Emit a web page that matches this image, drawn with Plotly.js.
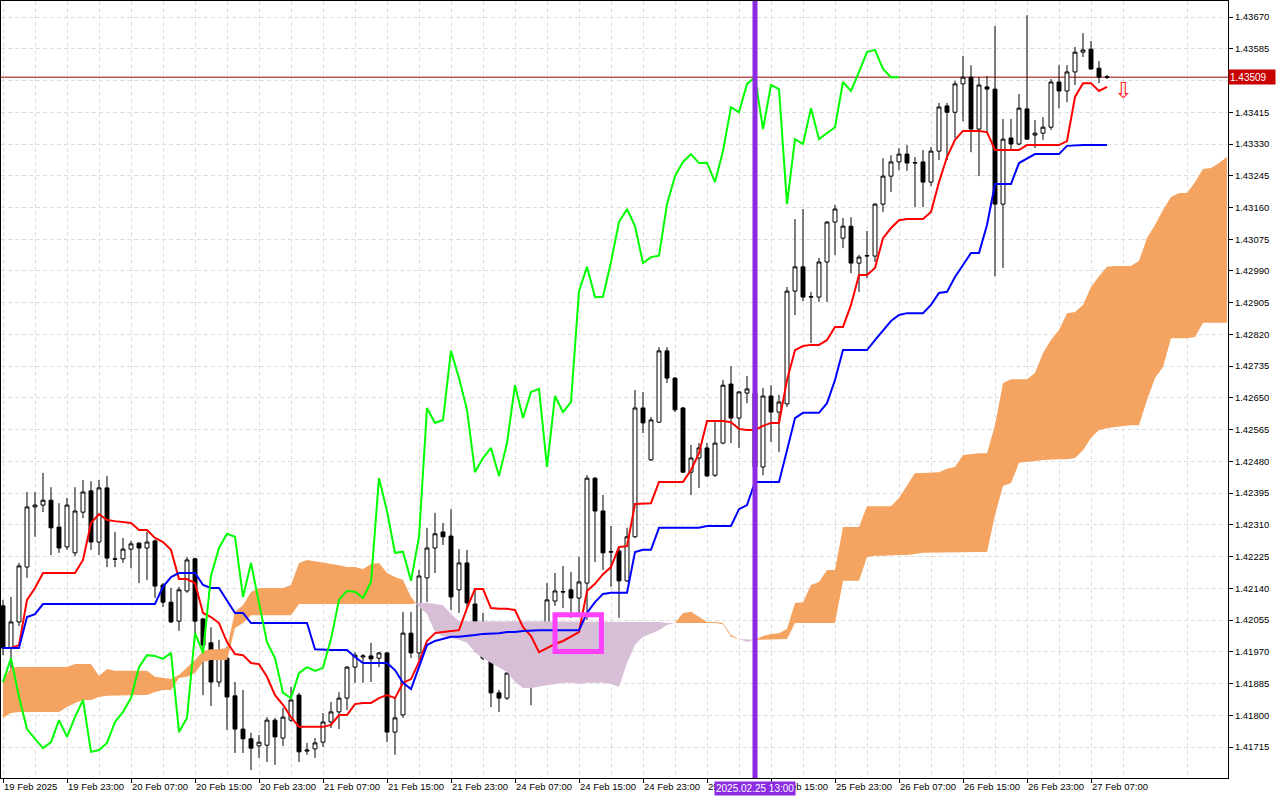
<!DOCTYPE html>
<html>
<head>
<meta charset="utf-8">
<script src="https://cdn.plot.ly/plotly-3.0.1.min.js"></script>
<style>
html,body{margin:0;padding:0;background:#ffffff;}
#chart{width:1280px;height:800px;}
</style>
</head>
<body>
<div id="chart"></div>
<script>
// ---- time axis labels (H1 bars, one label every 8 bars) ----
const tickBars = [0, 8, 16, 24, 32, 40, 48, 56, 64, 72, 80, 88, 96, 104, 112, 120, 128, 136];
const tickLabels = ["19 Feb 2025", "19 Feb 23:00", "20 Feb 07:00", "20 Feb 15:00", "20 Feb 23:00",
  "21 Feb 07:00", "21 Feb 15:00", "21 Feb 23:00", "24 Feb 07:00", "24 Feb 15:00", "24 Feb 23:00",
  "25 Feb 07:00", "25 Feb 15:00", "25 Feb 23:00", "26 Feb 07:00", "26 Feb 15:00", "26 Feb 23:00",
  "27 Feb 07:00"];

// ---- price axis labels ----
const priceTicks = [1.41715, 1.41800, 1.41885, 1.41970, 1.42055, 1.42140, 1.42225, 1.42310,
  1.42395, 1.42480, 1.42565, 1.42650, 1.42735, 1.42820, 1.42905, 1.42990, 1.43075, 1.43160,
  1.43245, 1.43330, 1.43415, 1.43500, 1.43585, 1.43670];

// ---- OHLC ----
const open = [
  1.42093, 1.41980, 1.42050, 1.42197, 1.42358, 1.42363, 1.42376, 1.42304, 1.42251, 1.42235,
  1.42344, 1.42401, 1.42264, 1.42409, 1.42219, 1.42219, 1.42245, 1.42261, 1.42248, 1.42267,
  1.42149, 1.42103, 1.42052, 1.42133, 1.42219, 1.42058, 1.41994, 1.41889, 1.41953, 1.41852,
  1.41763, 1.41737, 1.41718, 1.41720, 1.41787, 1.41739, 1.41787, 1.41854, 1.41704, 1.41710,
  1.41728, 1.41782, 1.41809, 1.41846, 1.41929, 1.41956, 1.41959, 1.41953, 1.41967, 1.41755,
  1.41801, 1.42020, 1.41967, 1.42168, 1.42248, 1.42291, 1.42280, 1.42136, 1.42208, 1.42098,
  1.41996, 1.41959, 1.41860, 1.41846, 1.41913, 1.41929, 1.41919, 1.41916, 1.42010, 1.42106,
  1.42130, 1.42136, 1.42114, 1.42154, 1.42435, 1.42347, 1.42237, 1.42240, 1.42160, 1.42278,
  1.42623, 1.42484, 1.42585, 1.42776, 1.42703, 1.42623, 1.42451, 1.42489, 1.42516, 1.42443,
  1.42529, 1.42687, 1.42596, 1.42663, 1.42663, 1.42465, 1.42655, 1.42612, 1.42634, 1.42936,
  1.43001, 1.42920, 1.42920, 1.43014, 1.43121, 1.43078, 1.43110, 1.43011, 1.43030, 1.43030,
  1.43169, 1.43244, 1.43282, 1.43303, 1.43279, 1.43282, 1.43228, 1.43311, 1.43432, 1.43415,
  1.43491, 1.43509, 1.43370, 1.43483, 1.43477, 1.43169, 1.43346, 1.43330, 1.43424, 1.43354,
  1.43359, 1.43375, 1.43496, 1.43472, 1.43523, 1.43576, 1.43584, 1.43533, 1.43510];
const high = [
  1.42109, 1.42117, 1.42208, 1.42398, 1.42398, 1.42449, 1.42411, 1.42368, 1.42382, 1.42411,
  1.42430, 1.42427, 1.42430, 1.42441, 1.42291, 1.42275, 1.42267, 1.42264, 1.42291, 1.42270,
  1.42154, 1.42141, 1.42144, 1.42224, 1.42222, 1.42061, 1.42036, 1.42002, 1.41983, 1.41889,
  1.41868, 1.41753, 1.41747, 1.41795, 1.41793, 1.41820, 1.41876, 1.41860, 1.41726, 1.41739,
  1.41806, 1.41836, 1.41862, 1.41932, 1.41969, 1.41964, 1.41994, 1.41969, 1.41970, 1.41846,
  1.42077, 1.42077, 1.42189, 1.42302, 1.42342, 1.42315, 1.42352, 1.42245, 1.42243, 1.42141,
  1.42074, 1.41967, 1.41868, 1.41915, 1.41951, 1.41994, 1.41980, 1.42020, 1.42154, 1.42181,
  1.42200, 1.42184, 1.42224, 1.42443, 1.42438, 1.42390, 1.42307, 1.42251, 1.42302, 1.42671,
  1.42666, 1.42599, 1.42786, 1.42786, 1.42706, 1.42626, 1.42524, 1.42529, 1.42529, 1.42585,
  1.42698, 1.42735, 1.42668, 1.42709, 1.42690, 1.42677, 1.42684, 1.42658, 1.42947, 1.43129,
  1.43156, 1.42934, 1.43025, 1.43123, 1.43167, 1.43132, 1.43134, 1.43033, 1.43097, 1.43171,
  1.43292, 1.43300, 1.43319, 1.43327, 1.43295, 1.43314, 1.43322, 1.43440, 1.43440, 1.43499,
  1.43566, 1.43541, 1.43509, 1.43512, 1.43646, 1.43397, 1.43397, 1.43464, 1.43675, 1.43394,
  1.43402, 1.43504, 1.43541, 1.43541, 1.43590, 1.43627, 1.43606, 1.43552, 1.43515];
const low = [
  1.41961, 1.41913, 1.42039, 1.42168, 1.42278, 1.42344, 1.42229, 1.42235, 1.42243, 1.42226,
  1.42328, 1.42243, 1.42229, 1.42197, 1.42197, 1.42208, 1.42194, 1.42154, 1.42162, 1.42114,
  1.42090, 1.42047, 1.42026, 1.42128, 1.42020, 1.41854, 1.41825, 1.41876, 1.41761, 1.41699,
  1.41699, 1.41653, 1.41686, 1.41675, 1.41667, 1.41718, 1.41782, 1.41675, 1.41694, 1.41686,
  1.41715, 1.41766, 1.41763, 1.41814, 1.41887, 1.41887, 1.41889, 1.41929, 1.41728, 1.41694,
  1.41793, 1.41953, 1.41948, 1.42103, 1.42181, 1.42256, 1.42082, 1.42074, 1.42087, 1.41969,
  1.41948, 1.41822, 1.41809, 1.41841, 1.41895, 1.41887, 1.41827, 1.41913, 1.41940, 1.42093,
  1.42087, 1.42061, 1.42063, 1.42055, 1.42210, 1.42189, 1.42144, 1.42061, 1.42157, 1.42275,
  1.42556, 1.42481, 1.42583, 1.42690, 1.42612, 1.42449, 1.42390, 1.42409, 1.42438, 1.42438,
  1.42526, 1.42529, 1.42516, 1.42636, 1.42457, 1.42443, 1.42532, 1.42505, 1.42626, 1.42872,
  1.42909, 1.42797, 1.42907, 1.42907, 1.43033, 1.43051, 1.42984, 1.42934, 1.42971, 1.43014,
  1.43148, 1.43201, 1.43260, 1.43258, 1.43161, 1.43161, 1.43217, 1.43287, 1.43287, 1.43346,
  1.43391, 1.43308, 1.43244, 1.43359, 1.42976, 1.42998, 1.43314, 1.43327, 1.43341, 1.43319,
  1.43341, 1.43367, 1.43426, 1.43442, 1.43488, 1.43563, 1.43528, 1.43493, 1.43504];
const close = [
  1.41980, 1.42050, 1.42200, 1.42358, 1.42363, 1.42376, 1.42302, 1.42248, 1.42363, 1.42347,
  1.42398, 1.42264, 1.42409, 1.42221, 1.42218, 1.42245, 1.42259, 1.42248, 1.42264, 1.42146,
  1.42103, 1.42050, 1.42136, 1.42216, 1.42052, 1.41988, 1.41889, 1.41953, 1.41849, 1.41763,
  1.41737, 1.41712, 1.41728, 1.41787, 1.41742, 1.41795, 1.41841, 1.41702, 1.41707, 1.41726,
  1.41782, 1.41809, 1.41846, 1.41929, 1.41961, 1.41959, 1.41951, 1.41967, 1.41755, 1.41793,
  1.42020, 1.41967, 1.42173, 1.42248, 1.42286, 1.42278, 1.42117, 1.42208, 1.42101, 1.41996,
  1.41953, 1.41860, 1.41846, 1.41913, 1.41929, 1.41919, 1.41927, 1.42004, 1.42109, 1.42133,
  1.42131, 1.42114, 1.42157, 1.42435, 1.42347, 1.42235, 1.42238, 1.42160, 1.42278, 1.42623,
  1.42583, 1.42591, 1.42776, 1.42703, 1.42618, 1.42451, 1.42489, 1.42516, 1.42441, 1.42529,
  1.42684, 1.42596, 1.42666, 1.42674, 1.42465, 1.42655, 1.42612, 1.42639, 1.42936, 1.43001,
  1.42920, 1.42921, 1.43014, 1.43121, 1.43156, 1.43110, 1.43011, 1.43027, 1.43031, 1.43169,
  1.43244, 1.43282, 1.43303, 1.43279, 1.43280, 1.43228, 1.43311, 1.43429, 1.43415, 1.43491,
  1.43509, 1.43370, 1.43488, 1.43477, 1.43169, 1.43343, 1.43330, 1.43426, 1.43343, 1.43359,
  1.43375, 1.43496, 1.43472, 1.43523, 1.43576, 1.43582, 1.43531, 1.43509, 1.43509];

// ---- Ichimoku lines ----
const tenkan = [
  1.41980, 1.41980, 1.41988, 1.42109, 1.42141, 1.42181, 1.42181, 1.42181, 1.42181, 1.42181,
  1.42216, 1.42315, 1.42339, 1.42323, 1.42320, 1.42318, 1.42315, 1.42296, 1.42296, 1.42275,
  1.42264, 1.42243, 1.42165, 1.42165, 1.42154, 1.42074, 1.42063, 1.42047, 1.41996, 1.41964,
  1.41961, 1.41940, 1.41937, 1.41903, 1.41854, 1.41828, 1.41795, 1.41769, 1.41769, 1.41769,
  1.41769, 1.41774, 1.41801, 1.41801, 1.41830, 1.41833, 1.41833, 1.41846, 1.41854, 1.41846,
  1.41887, 1.41897, 1.41943, 1.41999, 1.42020, 1.42023, 1.42026, 1.42028, 1.42087, 1.42138,
  1.42138, 1.42087, 1.42085, 1.42085, 1.42082, 1.42036, 1.42012, 1.41969, 1.41980, 1.41991,
  1.41999, 1.42010, 1.42023, 1.42133, 1.42152, 1.42178, 1.42197, 1.42251, 1.42253, 1.42366,
  1.42368, 1.42368, 1.42425, 1.42425, 1.42425, 1.42425, 1.42457, 1.42502, 1.42588, 1.42588,
  1.42588, 1.42585, 1.42567, 1.42564, 1.42564, 1.42575, 1.42583, 1.42583, 1.42698, 1.42778,
  1.42789, 1.42792, 1.42792, 1.42805, 1.42840, 1.42840, 1.42899, 1.42979, 1.42979, 1.42998,
  1.43078, 1.43105, 1.43126, 1.43129, 1.43129, 1.43129, 1.43148, 1.43228, 1.43295, 1.43341,
  1.43365, 1.43365, 1.43365, 1.43362, 1.43314, 1.43314, 1.43314, 1.43314, 1.43327, 1.43327,
  1.43327, 1.43327, 1.43327, 1.43338, 1.43456, 1.43493, 1.43493, 1.43472, 1.43483];
const kijun = [
  1.41980, 1.41980, 1.41980, 1.42063, 1.42071, 1.42098, 1.42098, 1.42098, 1.42098, 1.42098,
  1.42098, 1.42098, 1.42098, 1.42098, 1.42098, 1.42098, 1.42098, 1.42098, 1.42098, 1.42098,
  1.42144, 1.42170, 1.42181, 1.42181, 1.42181, 1.42149, 1.42141, 1.42141, 1.42109, 1.42074,
  1.42074, 1.42047, 1.42047, 1.42047, 1.42047, 1.42047, 1.42047, 1.42047, 1.42047, 1.41977,
  1.41975, 1.41975, 1.41975, 1.41975, 1.41956, 1.41940, 1.41940, 1.41940, 1.41940, 1.41921,
  1.41887, 1.41870, 1.41929, 1.41988, 1.41999, 1.42004, 1.42010, 1.42010, 1.42012, 1.42015,
  1.42018, 1.42018, 1.42020, 1.42023, 1.42023, 1.42026, 1.42028, 1.42028, 1.42028, 1.42028,
  1.42028, 1.42028, 1.42028, 1.42074, 1.42103, 1.42125, 1.42128, 1.42128, 1.42128, 1.42237,
  1.42243, 1.42243, 1.42302, 1.42302, 1.42302, 1.42302, 1.42302, 1.42302, 1.42307, 1.42307,
  1.42307, 1.42307, 1.42352, 1.42363, 1.42425, 1.42425, 1.42425, 1.42425, 1.42510, 1.42596,
  1.42610, 1.42610, 1.42610, 1.42636, 1.42698, 1.42778, 1.42778, 1.42778, 1.42778, 1.42805,
  1.42832, 1.42856, 1.42872, 1.42877, 1.42877, 1.42877, 1.42899, 1.42931, 1.42934, 1.42974,
  1.43006, 1.43038, 1.43038, 1.43113, 1.43223, 1.43223, 1.43223, 1.43279, 1.43292, 1.43303,
  1.43303, 1.43303, 1.43303, 1.43325, 1.43327, 1.43327, 1.43327, 1.43327, 1.43327];
// Chikou span: plotted 26 bars back, from bar 0 to bar 112
const chikou = [
  1.41889, 1.41953, 1.41849, 1.41763, 1.41737, 1.41712, 1.41728, 1.41787, 1.41742, 1.41795,
  1.41841, 1.41702, 1.41707, 1.41726, 1.41782, 1.41809, 1.41846, 1.41929, 1.41961, 1.41959,
  1.41951, 1.41967, 1.41755, 1.41793, 1.42020, 1.41967, 1.42173, 1.42248, 1.42286, 1.42278,
  1.42117, 1.42208, 1.42101, 1.41996, 1.41953, 1.41860, 1.41846, 1.41913, 1.41929, 1.41919,
  1.41927, 1.42004, 1.42109, 1.42133, 1.42131, 1.42114, 1.42157, 1.42435, 1.42347, 1.42235,
  1.42238, 1.42160, 1.42278, 1.42623, 1.42583, 1.42591, 1.42776, 1.42703, 1.42618, 1.42451,
  1.42489, 1.42516, 1.42441, 1.42529, 1.42684, 1.42596, 1.42666, 1.42674, 1.42465, 1.42655,
  1.42612, 1.42639, 1.42936, 1.43001, 1.42920, 1.42921, 1.43014, 1.43121, 1.43156, 1.43110,
  1.43011, 1.43027, 1.43031, 1.43169, 1.43244, 1.43282, 1.43303, 1.43279, 1.43280, 1.43228,
  1.43311, 1.43429, 1.43415, 1.43491, 1.43509, 1.43370, 1.43488, 1.43477, 1.43169, 1.43343,
  1.43330, 1.43426, 1.43343, 1.43359, 1.43375, 1.43496, 1.43472, 1.43523, 1.43576, 1.43582,
  1.43531, 1.43509, 1.43509];
// Senkou spans: plotted 26 bars ahead, bars 0..153 visible
const senkouA = [
  1.41895, 1.41927, 1.41929, 1.41929, 1.41929, 1.41929, 1.41929, 1.41929, 1.41929, 1.41937,
  1.41937, 1.41937, 1.41905, 1.41924, 1.41919, 1.41919, 1.41919, 1.41919, 1.41919, 1.41903,
  1.41900, 1.41897, 1.41908, 1.41929, 1.41948, 1.41972, 1.41977, 1.41977, 1.41980, 1.42077,
  1.42095, 1.42130, 1.42141, 1.42141, 1.42141, 1.42141, 1.42149, 1.42208, 1.42216, 1.42213,
  1.42208, 1.42205, 1.42202, 1.42197, 1.42197, 1.42192, 1.42205, 1.42208, 1.42181, 1.42170,
  1.42162, 1.42117, 1.42090, 1.42071, 1.42023, 1.42012, 1.42007, 1.42002, 1.41994, 1.41969,
  1.41953, 1.41940, 1.41929, 1.41916, 1.41889, 1.41873, 1.41873, 1.41876, 1.41881, 1.41884,
  1.41887, 1.41887, 1.41884, 1.41887, 1.41887, 1.41887, 1.41884, 1.41876, 1.41940, 1.41988,
  1.42010, 1.42018, 1.42028, 1.42042, 1.42047, 1.42074, 1.42077, 1.42063, 1.42050, 1.42050,
  1.42047, 1.42015, 1.42004, 1.41996, 1.42002, 1.42012, 1.42018, 1.42020, 1.42031, 1.42101,
  1.42103, 1.42149, 1.42157, 1.42189, 1.42189, 1.42304, 1.42304, 1.42304, 1.42360, 1.42360,
  1.42360, 1.42360, 1.42382, 1.42417, 1.42449, 1.42449, 1.42449, 1.42451, 1.42460, 1.42465,
  1.42497, 1.42500, 1.42502, 1.42502, 1.42577, 1.42690, 1.42700, 1.42700, 1.42700, 1.42717,
  1.42770, 1.42805, 1.42832, 1.42877, 1.42880, 1.42899, 1.42947, 1.42976, 1.43001, 1.43003,
  1.43003, 1.43003, 1.43017, 1.43078, 1.43113, 1.43153, 1.43188, 1.43199, 1.43199, 1.43228,
  1.43263, 1.43266, 1.43279, 1.43295];
const senkouB = [
  1.41793, 1.41806, 1.41809, 1.41809, 1.41809, 1.41809, 1.41809, 1.41809, 1.41822, 1.41833,
  1.41841, 1.41841, 1.41849, 1.41852, 1.41854, 1.41854, 1.41854, 1.41854, 1.41854, 1.41862,
  1.41868, 1.41868, 1.41900, 1.41903, 1.41913, 1.41943, 1.41948, 1.41948, 1.41948, 1.42034,
  1.42047, 1.42068, 1.42068, 1.42068, 1.42068, 1.42068, 1.42068, 1.42098, 1.42098, 1.42098,
  1.42098, 1.42098, 1.42098, 1.42098, 1.42098, 1.42098, 1.42098, 1.42098, 1.42098, 1.42098,
  1.42098, 1.42098, 1.42101, 1.42101, 1.42098, 1.42095, 1.42071, 1.42052, 1.42052, 1.42052,
  1.42052, 1.42052, 1.42052, 1.42052, 1.42052, 1.42052, 1.42052, 1.42052, 1.42052, 1.42052,
  1.42052, 1.42052, 1.42052, 1.42052, 1.42052, 1.42052, 1.42052, 1.42052, 1.42050, 1.42050,
  1.42050, 1.42050, 1.42050, 1.42047, 1.42047, 1.42047, 1.42047, 1.42047, 1.42047, 1.42047,
  1.42044, 1.42010, 1.42004, 1.42002, 1.42002, 1.42004, 1.42004, 1.42004, 1.42004, 1.42047,
  1.42047, 1.42047, 1.42047, 1.42047, 1.42047, 1.42160, 1.42160, 1.42160, 1.42224, 1.42227,
  1.42227, 1.42227, 1.42229, 1.42229, 1.42232, 1.42235, 1.42235, 1.42237, 1.42237, 1.42237,
  1.42237, 1.42237, 1.42237, 1.42237, 1.42336, 1.42414, 1.42422, 1.42476, 1.42478, 1.42481,
  1.42484, 1.42486, 1.42486, 1.42486, 1.42489, 1.42510, 1.42543, 1.42564, 1.42569, 1.42572,
  1.42575, 1.42577, 1.42577, 1.42644, 1.42703, 1.42733, 1.42810, 1.42810, 1.42810, 1.42813,
  1.42851, 1.42851, 1.42851, 1.42851];

// ---- markers on the chart ----
const lastPrice = 1.43509;
const crosshairBar = 94;
const crosshairLabel = "2025.02.25 13:00";
const signalBar = 140;
const signalPrice = 1.43472;
const boxBars = [69, 74.8];
const boxPrices = [1.41971, 1.42069];

// ---------------------------------------------------------------
const idx = n => Array.from({length: n}, (_, i) => i);
const barX = idx(close.length);

// cloud polygons, coloured by which span is on top
function cloudTraces() {
  const pieces = [];
  let cur = null, cs = 0;
  const finish = () => { if (cur && cur.x.length > 1) pieces.push({cur, cs}); };
  for (let i = 0; i < senkouA.length; i++) {
    const d = senkouA[i] - senkouB[i];
    const s = d > 0 ? 1 : (d < 0 ? -1 : 0);
    if (cur === null) { cur = {x: [], a: [], b: []}; cs = s; }
    if (s === 0 || cs === 0 || s === cs) {
      cur.x.push(i); cur.a.push(senkouA[i]); cur.b.push(senkouB[i]);
      if (cs === 0) cs = s;
    } else {
      const dp = senkouA[i - 1] - senkouB[i - 1];
      const t = dp / (dp - d);
      const xc = i - 1 + t;
      const yc = senkouA[i - 1] + t * (senkouA[i] - senkouA[i - 1]);
      cur.x.push(xc); cur.a.push(yc); cur.b.push(yc);
      finish();
      cur = {x: [xc, i], a: [yc, senkouA[i]], b: [yc, senkouB[i]]};
      cs = s;
    }
  }
  finish();
  return pieces.map(({cur, cs}) => ({
    type: 'scatter', mode: 'lines',
    x: cur.x.concat(cur.x.slice().reverse()),
    y: cur.a.concat(cur.b.slice().reverse()),
    fill: 'toself',
    fillcolor: cs >= 0 ? '#F4A460' : '#D8BFD8',
    line: {width: 0, color: 'rgba(0,0,0,0)'},
    hoverinfo: 'skip', showlegend: false
  }));
}

const traces = cloudTraces();
traces.push({
  type: 'candlestick', x: barX, open: open, high: high, low: low, close: close,
  increasing: {line: {color: '#000000', width: 1}, fillcolor: '#ffffff'},
  decreasing: {line: {color: '#000000', width: 1}, fillcolor: '#000000'},
  whiskerwidth: 0, hoverinfo: 'skip', showlegend: false
});
traces.push({type: 'scatter', mode: 'lines', x: barX, y: tenkan,
  line: {color: '#FF0000', width: 2}, hoverinfo: 'skip', showlegend: false});
traces.push({type: 'scatter', mode: 'lines', x: barX, y: kijun,
  line: {color: '#0000FF', width: 2}, hoverinfo: 'skip', showlegend: false});
traces.push({type: 'scatter', mode: 'lines', x: idx(chikou.length), y: chikou,
  line: {color: '#00FF00', width: 2}, hoverinfo: 'skip', showlegend: false});

const gridCol = '#dedede';
const tickFont = {family: 'Liberation Sans, Arial, sans-serif', size: 9.5, color: '#000000'};
const minorGrid = [];
for (let v = 4; v < 154; v += 8) minorGrid.push(v);

const layout = {
  width: 1280, height: 800,
  margin: {l: 1, r: 52, t: 1, b: 22, pad: 0},
  paper_bgcolor: '#ffffff', plot_bgcolor: '#ffffff',
  showlegend: false,
  xaxis: {
    range: [-0.25, 153.125], fixedrange: true, rangeslider: {visible: false},
    tickmode: 'array', tickvals: tickBars, ticktext: tickLabels, tickangle: 0,
    ticks: 'outside', ticklen: 4, tickcolor: '#000000', tickwidth: 1,
    ticklabelposition: 'outside right', tickfont: tickFont,
    showgrid: true, gridcolor: gridCol, griddash: '4px,3px', gridwidth: 1,
    minor: {tickmode: 'array', tickvals: minorGrid, showgrid: true, gridcolor: gridCol,
            griddash: '4px,3px', gridwidth: 1, ticks: ''},
    showline: true, mirror: true, linecolor: '#000000', linewidth: 1,
    zeroline: false
  },
  yaxis: {
    side: 'right', range: [1.41632, 1.43713], fixedrange: true,
    tickmode: 'array', tickvals: priceTicks, tickformat: '.5f',
    ticks: 'outside', ticklen: 4, tickcolor: '#000000', tickwidth: 1,
    tickfont: tickFont,
    showgrid: true, gridcolor: gridCol, griddash: '4px,3px', gridwidth: 1,
    showline: true, mirror: true, linecolor: '#000000', linewidth: 1,
    zeroline: false
  },
  shapes: [
    {type: 'line', xref: 'paper', x0: 0, x1: 1, yref: 'y', y0: lastPrice, y1: lastPrice,
     line: {color: '#9a0000', width: 1}, layer: 'below'},
    {type: 'line', xref: 'x', x0: crosshairBar, x1: crosshairBar, yref: 'paper', y0: 0, y1: 1,
     line: {color: '#8A2BE2', width: 5}, layer: 'above'},
    {type: 'rect', xref: 'x', x0: boxBars[0], x1: boxBars[1], yref: 'y', y0: boxPrices[0], y1: boxPrices[1],
     line: {color: '#FF40FF', width: 5}, fillcolor: 'rgba(0,0,0,0)', layer: 'above'}
  ],
  annotations: [
    {xref: 'x', x: crosshairBar, yref: 'paper', y: 0, yanchor: 'top', xanchor: 'center', yshift: -3,
     text: crosshairLabel, showarrow: false, bgcolor: '#8A2BE2', borderpad: 1,
     font: {family: 'Liberation Sans, Arial, sans-serif', size: 10, color: '#ffffff'}},
    {xref: 'paper', x: 1, xanchor: 'left', yref: 'y', y: lastPrice, yanchor: 'middle',
     text: lastPrice.toFixed(5), showarrow: false, bgcolor: '#c80000', borderpad: 1,
     width: 44, height: 12, align: 'left', xshift: 0,
     font: {family: 'Liberation Sans, Arial, sans-serif', size: 10, color: '#ffffff'}},
    {xref: 'x', x: signalBar, yref: 'y', y: signalPrice, text: '\u21E9', showarrow: false,
     font: {family: 'DejaVu Sans, sans-serif', size: 22, color: '#ff2020'}}
  ]
};

Plotly.newPlot('chart', traces, layout, {staticPlot: true, displayModeBar: false});
</script>
</body>
</html>
